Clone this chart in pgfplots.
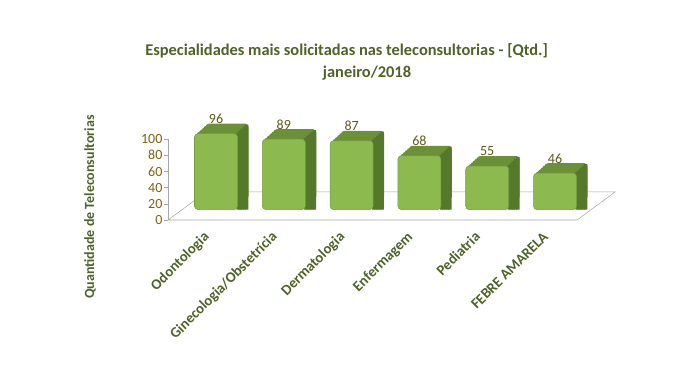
\documentclass[border=0pt]{standalone}
\usepackage{pgfplots}
\usepackage{pgfplotstable}
\pgfplotsset{compat=1.18}
\usepackage{fontspec}
\setmainfont{Carlito}
\definecolor{titlegreen}{HTML}{4F6228}
\definecolor{tickgold}{HTML}{7A6410}
\definecolor{valgold}{HTML}{5E5A1C}
\definecolor{barfront}{HTML}{8CBA4E}
\definecolor{bartop}{HTML}{6B9138}
\definecolor{barside}{HTML}{54792A}
\definecolor{floorgray}{HTML}{A6A6A6}
\pgfplotstableread{
x y
0 96
1 89
2 87
3 68
4 55
5 46
}\datatable
\begin{document}
\begin{tikzpicture}
\path[use as bounding box] (0,0) rectangle (510pt,276.75pt);
% title
\node[anchor=base, font=\fontsize{12.3}{14}\selectfont\bfseries, text=titlegreen] at (259.9pt,235.5pt) {Especialidades mais solicitadas nas teleconsultorias - [Qtd.]};
\node[anchor=base, font=\fontsize{12.3}{14}\selectfont\bfseries, text=titlegreen] at (275.25pt,219pt) {janeiro/2018};
% y label
\node[rotate=90, font=\fontsize{10.5}{12}\selectfont\bfseries, text=titlegreen] at (67.5pt,121.5pt) {Quantidade de Teleconsultorias};
% axis with ticks and floor
\begin{axis}[
  at={(126pt,111.75pt)}, anchor=south west,
  scale only axis, width=306.75pt, height=60.75pt,
  xmin=0, xmax=1, ymin=0, ymax=100,
  separate axis lines,
  axis x line=none, axis y line*=left,
  axis line style={floorgray},
  ytick={0,20,40,60,80,100},
  tick align=outside, major tick length=3pt,
  tick style={floorgray},
  yticklabel style={font=\fontsize{10.5}{11}\selectfont, text=tickgold, inner sep=1pt},
  /pgf/number format/assume math mode=true,
  clip=false,
]
\draw[floorgray] (rel axis cs:0,0) -- (rel axis cs:1,0) -- (rel axis cs:1.093,0.346) -- (rel axis cs:0.093,0.346) -- cycle;
\end{axis}
% bars
\begin{axis}[
  at={(126pt,119.6pt)}, anchor=south west,
  scale only axis, width=306.75pt, height=59.25pt,
  xmin=-0.708, xmax=5.324, ymin=0, ymax=100,
  axis line style={draw=none},
  ytick=\empty,
  xtick=data,
  xticklabels={Odontologia,Ginecologia/Obstetrícia,Dermatologia,Enfermagem,Pediatria,FEBRE AMARELA},
  major tick length=0pt,
  xticklabel style={font=\fontsize{11}{12}\selectfont\bfseries, text=titlegreen, inner sep=0pt, anchor=base east, xshift=-4.5pt, yshift=-21pt, rotate=45},
  /pgf/number format/assume math mode=true,
  clip=false,
  every axis plot/.append style={ybar, draw=none},
  deep/.style={bar width=32.25pt, fill=bartop, rounded corners=2.5pt},
  side/.style={bar width=2.6pt, fill=barside},
]
% extrusion (top face colour)
\addplot[deep, bar shift=8.25pt, yshift=7.5pt] table[x=x,y=y] {\datatable};
\addplot[deep, bar shift=6.6pt, yshift=6pt] table[x=x,y=y] {\datatable};
\addplot[deep, bar shift=4.95pt, yshift=4.5pt] table[x=x,y=y] {\datatable};
\addplot[deep, bar shift=3.3pt, yshift=3pt] table[x=x,y=y] {\datatable};
\addplot[deep, bar shift=1.65pt, yshift=1.5pt] table[x=x,y=y] {\datatable};
% side face (darker), raised by the depth offset
\addplot[side, bar shift=22.9pt] table[x=x,y expr=\thisrow{y}+11.48] {\datatable};
\addplot[side, bar shift=21.3pt] table[x=x,y expr=\thisrow{y}+8.95] {\datatable};
\addplot[side, bar shift=19.6pt] table[x=x,y expr=\thisrow{y}+6.41] {\datatable};
\addplot[side, bar shift=18.0pt] table[x=x,y expr=\thisrow{y}+3.88] {\datatable};
\addplot[side, bar shift=16.6pt] table[x=x,y expr=\thisrow{y}+1.35] {\datatable};
% front face
\addplot[bar width=32.25pt, bar shift=0pt, fill=barfront, draw=bartop!70!barfront, rounded corners=2.5pt,
  nodes near coords, every node near coord/.append style={font=\fontsize{10.5}{11}\selectfont, text=valgold, anchor=center, yshift=11pt}]
  table[x=x,y=y] {\datatable};
\end{axis}
\end{tikzpicture}
\end{document}
